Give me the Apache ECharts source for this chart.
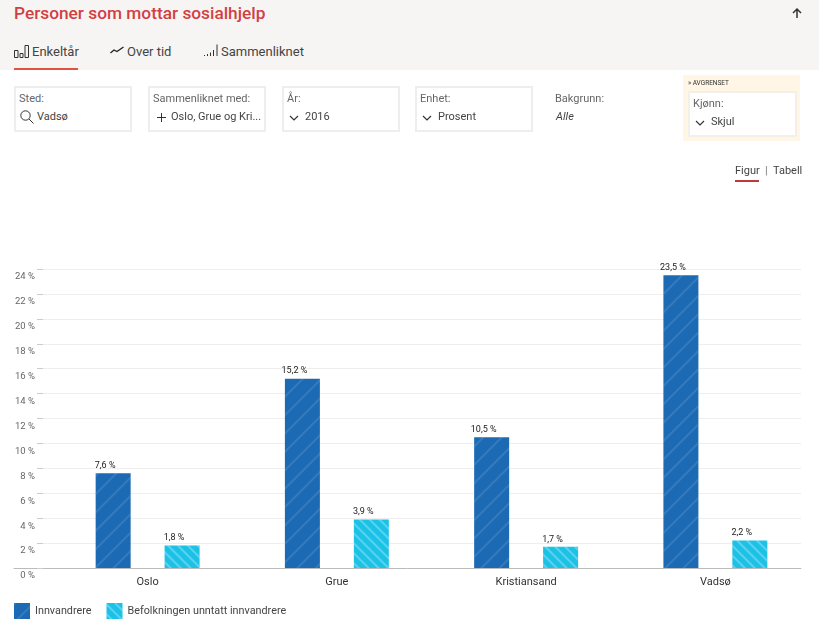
<!DOCTYPE html>
<html lang="no"><head><meta charset="utf-8">
<script src="https://cdn.jsdelivr.net/npm/echarts@6/dist/echarts.min.js"></script>
<style>
html,body{margin:0;padding:0;background:#fff;width:819px;height:639px;overflow:hidden;font-family:Roboto,sans-serif;color:#333}
.a{position:absolute;white-space:nowrap}
#chart{position:absolute;left:0;top:0;width:819px;height:639px}
#head{position:absolute;left:0;top:0;width:819px;height:70px;background:#f7f5f3}
.box{position:absolute;box-sizing:border-box;border:2px solid #eeeeee;background:#fff;width:118px;height:46px;top:86px}
.lab{position:absolute;left:3px;top:4px;font-size:11px;color:#666}
.val{position:absolute;top:22px;font-size:11px;color:#444}
svg{position:absolute;overflow:visible}
</style></head><body>
<div id="chart"></div>
<div id="head"></div>
<div class="a" style="left:14px;top:3px;font-size:17.300px;font-weight:500;color:#d23f43">Personer som mottar sosialhjelp</div>
<svg style="left:791px;top:7px" width="12" height="12" viewBox="0 0 12 12"><path d="M6 11V2M2 6l4-4 4 4" fill="none" stroke="#333" stroke-width="1.500"/></svg>
<svg style="left:14px;top:45px" width="15" height="13" viewBox="0 0 15 13"><path d="M.5 5.500h3.500v7h-3.500zM6 8.500h3v4h-3zM11 .5h3.500v12h-3.500z" fill="none" stroke="#333"/></svg>
<div class="a" style="left:32px;top:44px;font-size:13px;color:#444">Enkeltår</div>
<div class="a" style="left:14px;top:68px;width:64px;height:2px;background:#e0533f"></div>
<svg style="left:110px;top:46px" width="14" height="8" viewBox="0 0 14 8"><path d="M.5 7l3.500-3 3 1.500L13.500 1" fill="none" stroke="#222" stroke-width="1.300"/></svg>
<div class="a" style="left:127px;top:44px;font-size:13px;color:#444">Over tid</div>
<svg style="left:204px;top:44px" width="15" height="13" viewBox="0 0 15 13"><path d="M.5 12v-1M3.500 12v-2M6.500 12V8.500M9.500 12V6M13 12V.5" fill="none" stroke="#333"/></svg>
<div class="a" style="left:221px;top:44px;font-size:13px;color:#444">Sammenliknet</div>

<div class="box" style="left:14px"><div class="lab">Sted:</div>
<svg style="left:4px;top:22px" width="14" height="14" viewBox="0 0 14 14"><circle cx="5.500" cy="5.500" r="4.700" fill="none" stroke="#333"/><path d="M9 9l4.500 4.500" stroke="#333"/></svg>
<div class="val" style="left:21px">Vadsø</div></div>
<div class="box" style="left:148px"><div class="lab">Sammenliknet med:</div>
<svg style="left:7px;top:25px" width="9" height="9" viewBox="0 0 9 9"><path d="M4.500 0v9M0 4.500h9" stroke="#333"/></svg>
<div class="val" style="left:21px">Oslo, Grue og Kri...</div></div>
<div class="box" style="left:282px"><div class="lab">År:</div>
<svg style="left:5px;top:27px" width="10" height="6" viewBox="0 0 10 6"><path d="M1 1l4 4 4-4" fill="none" stroke="#333" stroke-width="1.200"/></svg>
<div class="val" style="left:21px">2016</div></div>
<div class="box" style="left:415px"><div class="lab">Enhet:</div>
<svg style="left:5px;top:27px" width="10" height="6" viewBox="0 0 10 6"><path d="M1 1l4 4 4-4" fill="none" stroke="#333" stroke-width="1.200"/></svg>
<div class="val" style="left:21px">Prosent</div></div>
<div class="a" style="left:555px;top:92px;font-size:11px;color:#666">Bakgrunn:</div>
<div class="a" style="left:556px;top:110px;font-size:11px;font-style:italic;color:#444">Alle</div>
<div class="a" style="left:683px;top:75px;width:117px;height:66px;background:#fff6e6"></div>
<div class="a" style="left:688px;top:79px;font-size:6.500px;color:#333">» AVGRENSET</div>
<div class="box" style="left:688px;top:91px;width:109px;height:46px;border-color:#f3f0ea"><div class="lab">Kjønn:</div>
<svg style="left:5px;top:27px" width="10" height="6" viewBox="0 0 10 6"><path d="M1 1l4 4 4-4" fill="none" stroke="#333" stroke-width="1.200"/></svg>
<div class="val" style="left:21px">Skjul</div></div>
<div class="a" style="left:735px;top:164px;font-size:11px;color:#444">Figur</div>
<div class="a" style="left:765px;top:164px;font-size:11px;color:#777">|</div>
<div class="a" style="left:773px;top:164px;font-size:11px;color:#444">Tabell</div>
<div class="a" style="left:735px;top:180px;width:24px;height:2px;background:#c0393b"></div>

<script>
const categories = ["Oslo", "Grue", "Kristiansand", "Vadsø"];
const innvandrere = [7.6, 15.2, 10.5, 23.5];
const befolkningen = [1.8, 3.9, 1.7, 2.2];
const seriesNames = ["Innvandrere", "Befolkningen unntatt innvandrere"];
const FONT = 'Roboto,sans-serif';
const comma = v => String(v).replace('.', ',') + ' %';
const decalBlue = {symbol:'rect',symbolSize:1,dashArrayX:[1,0],dashArrayY:[1.5,10.5],rotation:-Math.PI/4,color:'rgba(255,255,255,0.11)'};
const decalCyan = {symbol:'rect',symbolSize:1,dashArrayX:[1,0],dashArrayY:[2,5],rotation:Math.PI/4,color:'rgba(255,255,255,0.28)'};
const barLabel = {show:true,position:'top',distance:3,offset:[-8,0],fontSize:9,color:'#222',fontFamily:FONT,formatter:p=>comma(p.value)};
const chart = echarts.init(document.getElementById('chart'),null,{renderer:'canvas'});
const T=269,B=71;
chart.setOption({
  animation:false,
  backgroundColor:'#fff',
  grid:[
    {left:53,right:9,top:T,bottom:B},
    {left:43,right:18,top:T,bottom:B},
    {left:14,right:18,top:T,bottom:B}
  ],
  xAxis:[
    {type:'category',gridIndex:0,data:categories,
     axisLine:{show:false},
     axisTick:{alignWithLabel:true,length:5,lineStyle:{color:'#444'}},
     axisLabel:{fontSize:11,color:'#333',fontFamily:FONT,margin:9}},
    {type:'value',gridIndex:1,show:false},
    {type:'value',gridIndex:2,axisLine:{show:true,onZero:false,lineStyle:{color:'#bbbbbb'}},axisTick:{show:false},axisLabel:{show:false},splitLine:{show:false}}
  ],
  yAxis:[
    {type:'value',gridIndex:0,min:0,max:24,interval:2,show:false},
    {type:'value',gridIndex:1,min:0,max:24,interval:2,
     axisLine:{show:false},
     axisTick:{show:true,length:6,lineStyle:{color:'#cccccc'}},
     axisLabel:{fontSize:9.500,color:'#666',fontFamily:FONT,margin:8,verticalAlign:'top',padding:[3,0,0,0],formatter:v=>v+' %'},
     splitLine:{show:true,lineStyle:{color:'#eeeeee'}}},
    {type:'value',gridIndex:2,min:0,max:24,show:false}
  ],
  legend:{left:9,top:598,itemWidth:16,itemHeight:16,itemGap:15,icon:'rect',
    textStyle:{fontSize:10.800,color:'#444',fontFamily:FONT,padding:[0,0,0,0]},
    data:seriesNames},
  series:[
    {name:seriesNames[0],type:'bar',xAxisIndex:0,yAxisIndex:0,data:innvandrere,barWidth:35,barGap:'97%',
     itemStyle:{color:'#1c6ab4',decal:decalBlue},label:barLabel},
    {name:seriesNames[1],type:'bar',xAxisIndex:0,yAxisIndex:0,data:befolkningen,barWidth:35,
     itemStyle:{color:'#1cc1e6',decal:decalCyan},label:barLabel}
  ]
});
</script>
</body></html>
